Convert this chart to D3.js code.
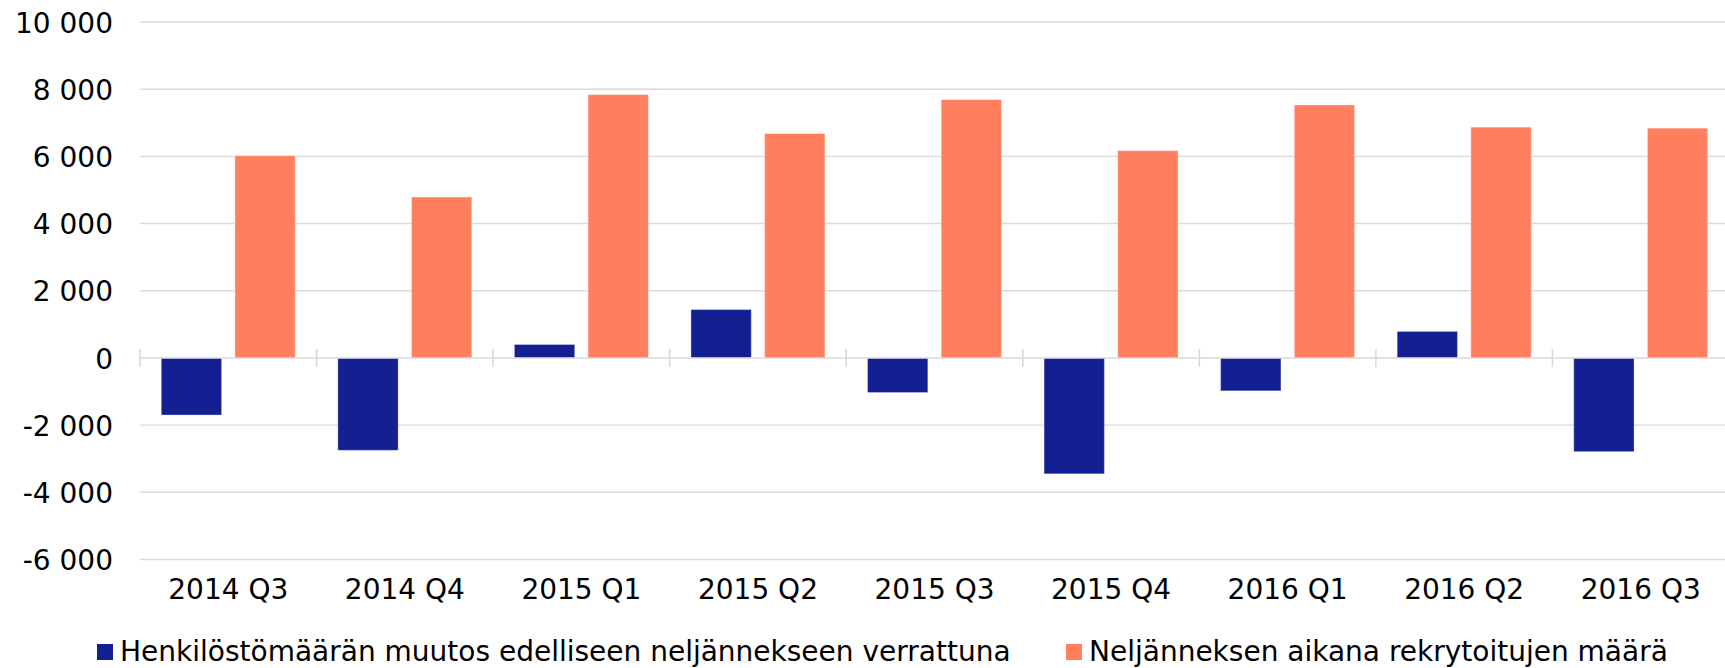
<!DOCTYPE html>
<html>
<head>
<meta charset="utf-8">
<script src="https://cdn.jsdelivr.net/npm/d3@7"></script>
<style>
  html, body { margin: 0; padding: 0; background: #fff; }
  svg { display: block; }
  text { font-family: "DejaVu Sans", Verdana, sans-serif; fill: #000; }
</style>
</head>
<body>
<svg id="chart" width="1725" height="668"></svg>
<script>
// ---- Data ----
const categories = ["2014 Q3", "2014 Q4", "2015 Q1", "2015 Q2", "2015 Q3", "2015 Q4", "2016 Q1", "2016 Q2", "2016 Q3"];
const seriesNames = ["Henkilöstömäärän muutos edelliseen neljännekseen verrattuna", "Neljänneksen aikana rekrytoitujen määrä"];
const changeValues = [-1700, -2750, 400, 1440, -1030, -3450, -980, 790, -2790];
const recruitValues = [6020, 4790, 7840, 6680, 7690, 6170, 7530, 6870, 6840];
const yTicks = [-6000, -4000, -2000, 0, 2000, 4000, 6000, 8000, 10000];
const seriesColors = ["#141f91", "#ff7f5e"];

// ---- Layout ----
const svg = d3.select("#chart");
const plotLeft = 140, plotRight = 1729, plotTop = 22, plotBottom = 559.5;
const fontSize = 28;

const x = d3.scaleBand().domain(categories).range([plotLeft, plotRight]).paddingInner(0).paddingOuter(0);
const xs = d3.scaleBand().domain([0, 1]).range([0, x.bandwidth()]).paddingInner(0.181).paddingOuter(0.289);
const y = d3.scaleLinear().domain([-6000, 10000]).range([plotBottom, plotTop]);

const fmt = v => d3.format(",")(v).replace(/,/g, " ").replace("−", "-");

// gridlines
const gridColor = "#d9d9de";
svg.append("g").selectAll("line").data(yTicks.filter(v => v !== 0)).join("line")
  .attr("x1", plotLeft).attr("x2", plotRight)
  .attr("y1", d => y(d)).attr("y2", d => y(d))
  .attr("stroke", gridColor).attr("stroke-width", 1.4);

// y axis labels
const yAxis = d3.axisLeft(y).tickValues(yTicks).tickFormat(fmt).tickSize(0).tickPadding(0);
const yg = svg.append("g").attr("transform", `translate(${113},0)`).call(yAxis);
yg.select(".domain").remove();
yg.selectAll("text").attr("font-size", fontSize).attr("font-family", "DejaVu Sans").attr("fill", "#000").attr("dy", "0.36em");

// bars
const seriesData = [changeValues, recruitValues];
seriesData.forEach((vals, si) => {
  svg.append("g").selectAll("rect").data(vals).join("rect")
    .attr("x", (d, i) => x(categories[i]) + xs(si))
    .attr("width", xs.bandwidth())
    .attr("y", d => y(Math.max(0, d)))
    .attr("height", d => Math.abs(y(d) - y(0)))
    .attr("fill", seriesColors[si])
    .attr("stroke", "rgba(255,255,255,0.35)")
    .attr("stroke-width", 1);
});

// zero axis line with ticks at category boundaries
const zg = svg.append("g").attr("transform", `translate(0,${y(0)})`);
zg.append("line").attr("x1", plotLeft).attr("x2", plotRight).attr("y1", 0).attr("y2", 0)
  .attr("stroke", gridColor).attr("stroke-width", 1.6);
const boundaries = categories.map(c => x(c)).concat([x(categories[categories.length - 1]) + x.bandwidth()]);
zg.selectAll("line.tk").data(boundaries).join("line").attr("class", "tk")
  .attr("x1", d => d).attr("x2", d => d).attr("y1", -9).attr("y2", 9)
  .attr("stroke", gridColor).attr("stroke-width", 1.6);

// x labels
const xg = svg.append("g").attr("transform", `translate(0,${plotBottom})`)
  .call(d3.axisBottom(x).tickSize(0).tickPadding(0));
xg.select(".domain").remove();
xg.selectAll("text").attr("font-size", fontSize).attr("font-family", "DejaVu Sans").attr("fill", "#000")
  .attr("dy", null).attr("y", 39);

// legend
const legendItems = [
  { name: seriesNames[0], color: seriesColors[0], x: 97 },
  { name: seriesNames[1], color: seriesColors[1], x: 1066 }
];
const lg = svg.append("g");
legendItems.forEach(it => {
  lg.append("rect").attr("x", it.x).attr("y", 644).attr("width", 16).attr("height", 16).attr("fill", it.color);
  lg.append("text").attr("x", it.x + 23).attr("y", 661).attr("font-size", fontSize).text(it.name);
});
</script>
</body>
</html>
